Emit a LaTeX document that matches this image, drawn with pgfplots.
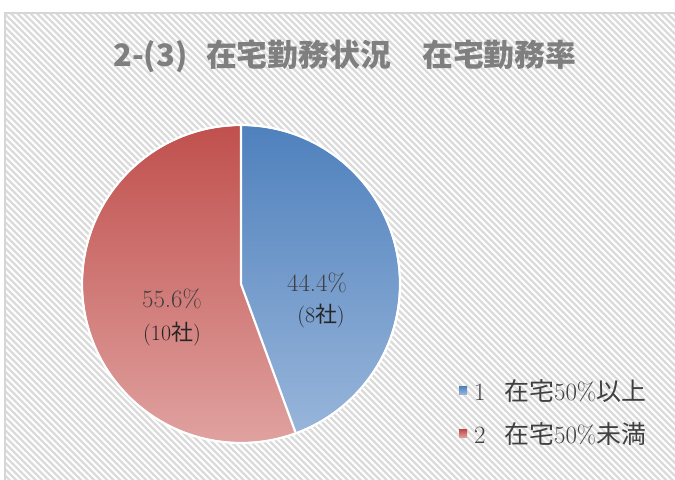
\documentclass[border=0pt]{standalone}
\usepackage{fontspec}
\usepackage{pgfplots}
\usepackage{pgfplotstable}
\pgfplotsset{compat=1.18}
\usetikzlibrary{calc}
\newfontfamily\cjk{Noto Sans CJK JP}
\definecolor{bluetop}{RGB}{79,129,189}
\definecolor{bluebot}{RGB}{152,181,218}
\definecolor{redtop}{RGB}{192,80,77}
\definecolor{redbot}{RGB}{224,163,161}
\definecolor{titlegray}{RGB}{127,127,127}
\pgfplotstableread{
id value count
1 44.4 8
2 55.6 10
}\pietable
\begin{document}
\begin{tikzpicture}[x=1bp,y=1bp]
\useasboundingbox (0,0) rectangle (675,480);
\begin{scope}
\clip (0,0) rectangle (675,480);
\fill[white] (0,0) rectangle (675,480);
\begin{scope}
\clip (5,-5) rectangle (690,467);
\foreach \i in {0,...,180} {
  \draw[black!14, line width=2.4bp] ({\i*6.5-480},470) -- ++(475,-475);
}
\end{scope}
\draw[black!16, line width=1.5bp] (5,-5) rectangle (690,467);
\end{scope}
\node[text=titlegray, font=\cjk\bfseries\fontsize{31}{36}\selectfont] at (345,424) {2-(3)\hspace{0.6em}在宅勤務状況　在宅勤務率};
\pgfplotstablegetelem{0}{value}\of\pietable
\pgfmathsetmacro\angA{90-3.6*\pgfplotsretval}
\begin{axis}[at={(241,196)}, anchor=origin, x=1bp, y=1bp,
  xmin=-170, xmax=170, ymin=-170, ymax=170, hide axis, clip=false,
  legend style={at={(axis cs:218,-93)}, anchor=north west, draw=none, fill=none,
    inner sep=0pt, row sep=17bp, font=\fontsize{25}{29}\selectfont, text=black!75,
    cells={anchor=west}},
  ]
\shade[top color=bluetop, bottom color=bluebot] (axis cs:0,0) -- (axis cs:0,158) arc[start angle=90, end angle=\angA, radius=158bp] -- cycle;
\shade[top color=redtop, bottom color=redbot] (axis cs:0,0) -- (axis cs:0,158) arc[start angle=90, end angle=\angA+360, radius=158bp] -- cycle;
\draw[white, line width=2.2bp, line join=round] (axis cs:0,158) -- (axis cs:0,0) -- ($(axis cs:0,0)+(\angA:158bp)$);
\draw[white, line width=2.2bp] (axis cs:0,0) circle[radius=159bp];
\node[text=black!75, font=\fontsize{25}{30}\selectfont] at (axis cs:76,1) {44.4\%};
\node[text=black!85, font=\fontsize{22}{26}\selectfont] at (axis cs:80,-32) {(8{\cjk 社})};
\node[text=black!75, font=\fontsize{25}{30}\selectfont] at (axis cs:-69,-15) {55.6\%};
\node[text=black!85, font=\fontsize{22}{26}\selectfont] at (axis cs:-69,-50) {(10{\cjk 社})};
\addlegendimage{legend image code/.code={\shade[draw=none, top color=bluetop,bottom color=bluebot] (0bp,-4bp) rectangle (8bp,4bp); \path[draw=none,fill=none] (13bp,0bp);}}
\addlegendentry{1\hspace{0.75em}{\cjk 在宅}50\%{\cjk 以上}}
\addlegendimage{legend image code/.code={\shade[draw=none, top color=redtop,bottom color=redbot] (0bp,-4bp) rectangle (8bp,4bp); \path[draw=none,fill=none] (13bp,0bp);}}
\addlegendentry{2\hspace{0.75em}{\cjk 在宅}50\%{\cjk 未満}}
\end{axis}
\end{tikzpicture}
\end{document}
